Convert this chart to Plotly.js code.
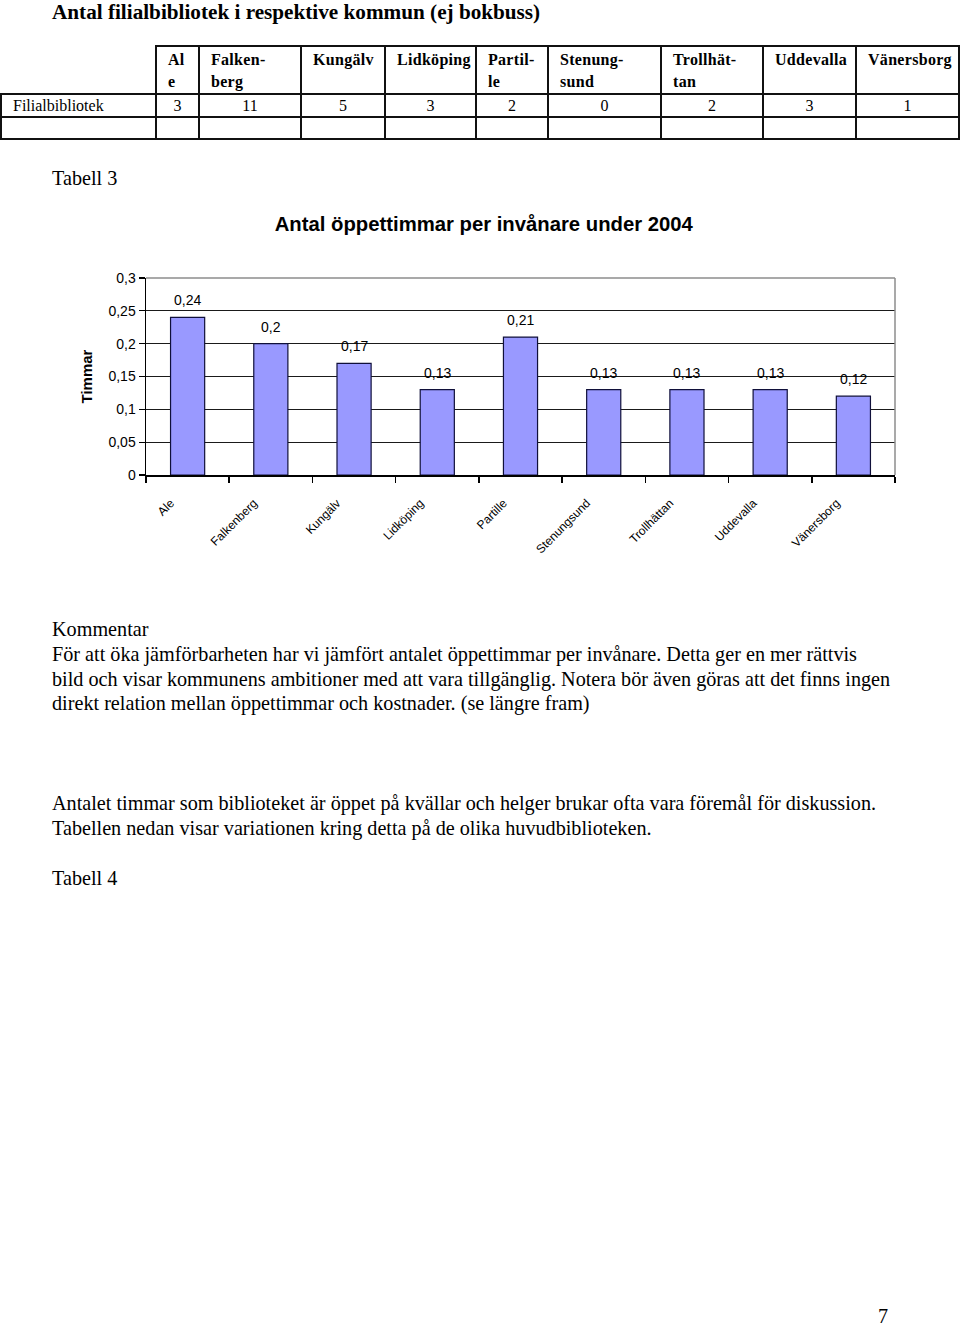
<!DOCTYPE html>
<html>
<head>
<meta charset="utf-8">
<script src="https://cdn.plot.ly/plotly-3.0.1.min.js"></script>
<style>
  html, body { margin:0; padding:0; background:#fff; }
  body { width:960px; height:1325px; position:relative; overflow:hidden;
         font-family:"Liberation Serif","Times New Roman",serif; color:#000; }
  .t { position:absolute; white-space:nowrap; font-size:20.2px; line-height:24px; }
  .h1 { position:absolute; white-space:nowrap; font-size:21.2px; line-height:24px; font-weight:bold; left:52px; top:0px; }
  table.fil { position:absolute; left:0px; top:45px; border-collapse:collapse; table-layout:fixed;
              font-family:"Liberation Serif","Times New Roman",serif; font-size:16px; }
  table.fil td { border:2px solid #111; padding:0; overflow:hidden; white-space:nowrap; }
  table.fil tr.head td { height:43px; vertical-align:top; font-weight:bold; line-height:22px; padding-left:11px; padding-top:2px; letter-spacing:0.3px; }
  table.fil tr.head td.blank { border:none; }
  table.fil tr.r1 td { height:21px; text-align:center; line-height:20px; }
  table.fil tr.r1 td.lab { text-align:left; padding-left:11px; }
  table.fil tr.r2 td { height:20px; }
  #chart { position:absolute; left:0; top:190px; width:960px; height:400px; }
</style>
</head>
<body>
<div class="h1">Antal filialbibliotek i respektive kommun (ej bokbuss)</div>
<table class="fil" id="fil"></table>

<div class="t" style="left:52px; top:166px;">Tabell 3</div>
<div id="chart"></div>

<div class="t" style="left:52px; top:617px;">Kommentar</div>
<div class="t" style="left:52px; top:642px;">För att öka jämförbarheten har vi jämfört antalet öppettimmar per invånare. Detta ger en mer rättvis</div>
<div class="t" style="left:52px; top:667px;">bild och visar kommunens ambitioner med att vara tillgänglig. Notera bör även göras att det finns ingen</div>
<div class="t" style="left:52px; top:691px;">direkt relation mellan öppettimmar och kostnader. (se längre fram)</div>

<div class="t" style="left:52px; top:791px;">Antalet timmar som biblioteket är öppet på kvällar och helger brukar ofta vara föremål för diskussion.</div>
<div class="t" style="left:52px; top:816px;">Tabellen nedan visar variationen kring detta på de olika huvudbiblioteken.</div>
<div class="t" style="left:52px; top:866px;">Tabell 4</div>

<div class="t" style="left:878px; top:1304px;">7</div>

<script>
// ---- Table data (Tabell: filialbibliotek) ----
const tableHeaders = ["Al<br>e", "Falken-<br>berg", "Kungälv", "Lidköping", "Partil-<br>le", "Stenung-<br>sund", "Trollhät-<br>tan", "Uddevalla", "Vänersborg"];
const tableRowLabel = "Filialbibliotek";
const filialCounts = [3, 11, 5, 3, 2, 0, 2, 3, 1];
const colWidths = [155, 43, 102, 84, 91, 72, 113, 102, 93, 103];

// ---- Chart data ----
const kommuner = ["Ale", "Falkenberg", "Kungälv", "Lidköping", "Partille", "Stenungsund", "Trollhättan", "Uddevalla", "Vänersborg"];
const timmarPerInvanare = [0.24, 0.20, 0.17, 0.13, 0.21, 0.13, 0.13, 0.13, 0.12];
const yTickVals = [0, 0.05, 0.1, 0.15, 0.2, 0.25, 0.3];
const yTickText = ["0", "0,05", "0,1", "0,15", "0,2", "0,25", "0,3"];

// build HTML table
(function(){
  const t = document.getElementById('fil');
  let cg = '<colgroup>' + colWidths.map(w => '<col style="width:' + w + 'px">').join('') + '</colgroup>';
  let h = '<tr class="head"><td class="blank"></td>' + tableHeaders.map(s => '<td>' + s + '</td>').join('') + '</tr>';
  let r1 = '<tr class="r1"><td class="lab">' + tableRowLabel + '</td>' + filialCounts.map(v => '<td>' + v + '</td>').join('') + '</tr>';
  let r2 = '<tr class="r2">' + colWidths.map(() => '<td></td>').join('') + '</tr>';
  t.innerHTML = cg + h + r1 + r2;
  t.style.width = colWidths.reduce((a,b)=>a+b,0) + 'px';
})();

const fmt = v => String(v).replace('.', ',');

const trace = {
  type: 'bar',
  x: kommuner,
  y: timmarPerInvanare,
  marker: { color: '#9999FF', line: { color: '#10103a', width: 1.2 } },
  hoverinfo: 'skip'
};

const annotations = kommuner.map((k, i) => ({
  x: k, y: timmarPerInvanare[i], xref: 'x', yref: 'y',
  text: fmt(timmarPerInvanare[i]), showarrow: false,
  yanchor: 'bottom', yshift: 7,
  font: { family: 'Liberation Sans, Arial, sans-serif', size: 14, color: '#000' }
}));

const layout = {
  width: 960, height: 400,
  margin: { l: 146, r: 65, t: 88, b: 115 },
  paper_bgcolor: 'rgba(0,0,0,0)', plot_bgcolor: '#fff',
  separators: ',.',
  showlegend: false,
  bargap: 0.59,
  font: { family: 'Liberation Sans, Arial, sans-serif', size: 14, color: '#000' },
  title: {
    text: '<b>Antal öppettimmar per invånare under 2004</b>',
    font: { family: 'Liberation Sans, Arial, sans-serif', size: 20.3, color: '#000' },
    xref: 'paper', x: 0.451, xanchor: 'center',
    yref: 'container', y: 0.915, yanchor: 'middle'
  },
  xaxis: {
    type: 'category',
    showline: true, linecolor: '#000', linewidth: 1.5,
    ticks: 'outside', tickson: 'boundaries', ticklen: 6, tickcolor: '#000', tickwidth: 1.5,
    tickangle: -45,
    ticklabelstandoff: 15, ticklabelshift: -17,
    tickfont: { family: 'Liberation Sans, Arial, sans-serif', size: 12, color: '#000' },
    showgrid: false, zeroline: false, fixedrange: true
  },
  yaxis: {
    range: [0, 0.3],
    tickvals: yTickVals, ticktext: yTickText,
    showline: true, linecolor: '#000', linewidth: 1.5,
    ticks: 'outside', ticklen: 6, tickcolor: '#000', tickwidth: 1.2,
    tickfont: { family: 'Liberation Sans, Arial, sans-serif', size: 14, color: '#000' },
    showgrid: true, gridcolor: '#1a1a1a', gridwidth: 1,
    zeroline: false, fixedrange: true,
    title: { text: '<b>Timmar</b>', standoff: 12,
             font: { family: 'Liberation Sans, Arial, sans-serif', size: 15, color: '#000' } }
  },
  shapes: [
    { type: 'line', xref: 'paper', yref: 'paper', x0: 0, x1: 1, y0: 1, y1: 1, line: { color: '#8c8c8c', width: 1.5 }, layer: 'above' },
    { type: 'line', xref: 'paper', yref: 'paper', x0: 1, x1: 1, y0: 0, y1: 1, line: { color: '#8c8c8c', width: 1.5 }, layer: 'above' }
  ],
  annotations: annotations
};

Plotly.newPlot('chart', [trace], layout, { displayModeBar: false, staticPlot: true });
</script>
</body>
</html>
